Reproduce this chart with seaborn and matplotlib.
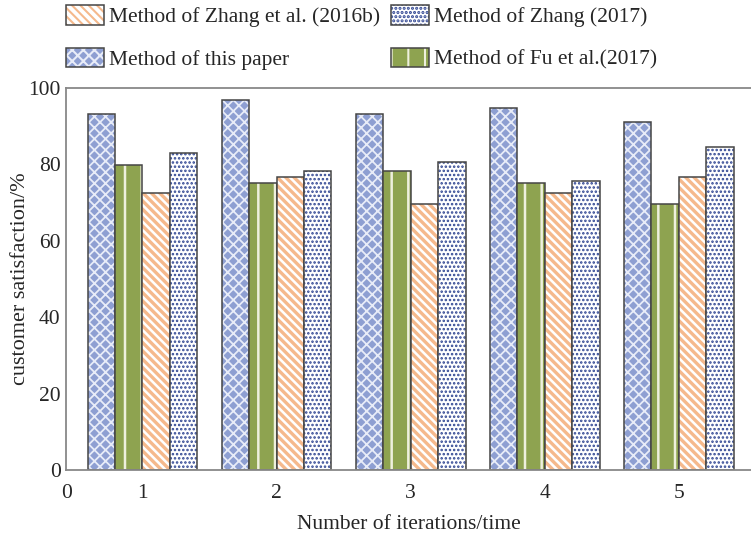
import numpy as np
import pandas as pd
import matplotlib
matplotlib.use("Agg")
import matplotlib.pyplot as plt
import matplotlib.patches as mpatches
import seaborn as sns

# values
iterations = ["1", "2", "3", "4", "5"]
methods = ["Method of this paper", "Method of Fu et al.(2017)",
           "Method of Zhang et al. (2016b)", "Method of Zhang (2017)"]
this_paper = [93.2, 96.9, 93.2, 94.8, 91.1]
fu_2017 = [79.8, 75.1, 78.3, 75.1, 69.6]
zhang_2016b = [72.5, 76.7, 69.6, 72.5, 76.7]
zhang_2017 = [83.0, 78.3, 80.6, 75.7, 84.6]

series = [this_paper, fu_2017, zhang_2016b, zhang_2017]
df = pd.DataFrame({
    "iteration": np.tile(iterations, len(methods)),
    "method": np.repeat(methods, len(iterations)),
    "value": np.concatenate(series),
})

sns.set_theme(style="white")
plt.rcParams["font.family"] = ["Liberation Serif", "DejaVu Serif"]
plt.rcParams["hatch.linewidth"] = 1.5

face = {methods[0]: "#8e9fd2", methods[1]: "#8ea350",
        methods[2]: "white", methods[3]: "white"}
hatch = {methods[0]: "xxx", methods[1]: "|",
         methods[2]: "\\\\\\\\", methods[3]: "...."}
hatch_col = {methods[0]: "#e8ecf8", methods[1]: "#eef0dd",
             methods[2]: "#f5b98c", methods[3]: "#2f4592"}
hatch_lw = {methods[0]: 1.3, methods[1]: 1.8,
            methods[2]: 2.4, methods[3]: 1.2}
edge = "#454545"
FS = 15.5


def style_patch(p, m):
    p.set_facecolor(face[m])
    p.set_hatch(hatch[m])
    p.set_edgecolor(edge)
    p.set_linewidth(1.1)
    p._hatch_color = matplotlib.colors.to_rgba(hatch_col[m])
    if hasattr(p, "set_hatch_linewidth"):
        p.set_hatch_linewidth(hatch_lw[m])
    else:
        p._hatch_linewidth = hatch_lw[m]


fig = plt.figure(figsize=(7.51, 5.34), dpi=100)
ax = fig.add_axes([0.088, 0.12, 0.912, 0.715])

sns.barplot(data=df, x="iteration", y="value", hue="method",
            hue_order=methods, order=iterations, width=0.82,
            legend=False, ax=ax, palette=face)

for cont, m in zip(ax.containers, methods):
    for p in cont:
        style_patch(p, m)

ax.set_ylim(0, 100)
ax.set_xlim(-0.57, 4.54)
ax.set_yticks([0, 20, 40, 60, 80, 100])
ax.set_xticks([-0.57, 0, 1, 2, 3, 4])
ax.set_xticklabels(["0"] + iterations)
ax.tick_params(axis="y", direction="in", length=7, color="#777777",
               labelsize=FS, pad=4)
ax.tick_params(axis="x", length=0, labelsize=FS, pad=10)
ax.set_xlabel("Number of iterations/time", fontsize=FS, labelpad=9)
ax.set_ylabel("customer satisfaction/%", fontsize=16, labelpad=-1)

for s in ["left", "top", "bottom"]:
    ax.spines[s].set_color("#888888")
    ax.spines[s].set_linewidth(1.3)
ax.spines["right"].set_visible(False)

handles = {}
for m in methods:
    h = mpatches.Patch()
    style_patch(h, m)
    handles[m] = h
order = [methods[2], methods[0], methods[3], methods[1]]
fig.legend([handles[m] for m in order], order, loc="upper left",
           bbox_to_anchor=(0.068, 1.018), ncol=2, frameon=False,
           fontsize=FS, handlelength=1.75, handleheight=1.0,
           handletextpad=0.25, columnspacing=0.5, labelspacing=0.95,
           borderpad=0.2)

fig.savefig("out.png", dpi=100)
